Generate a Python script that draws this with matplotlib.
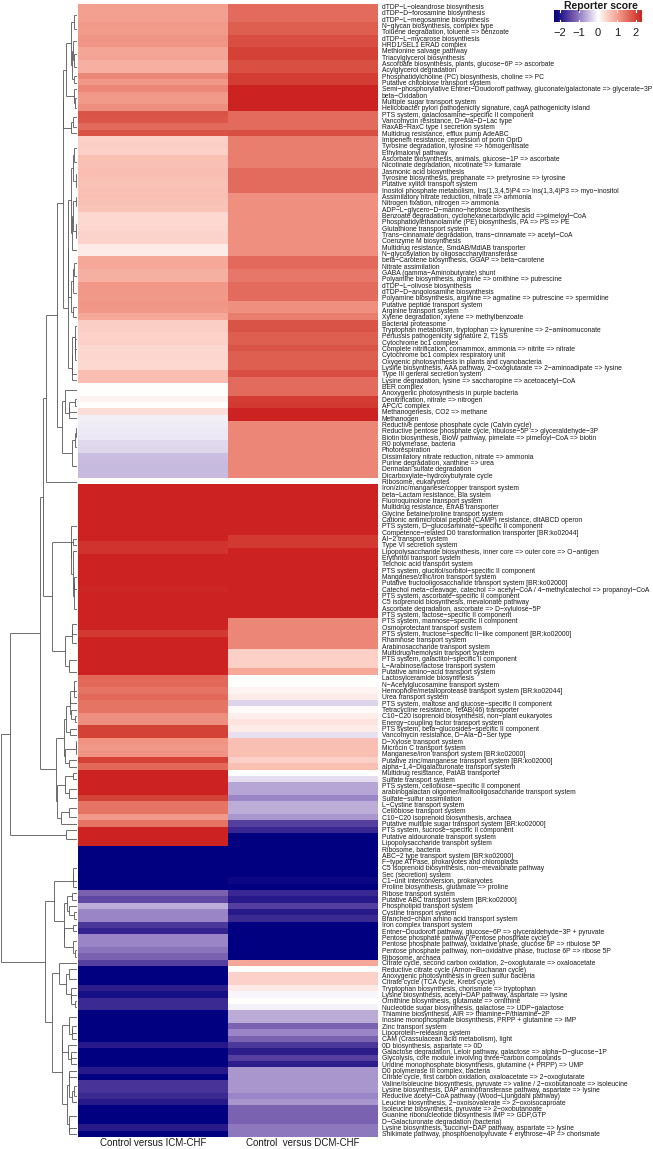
import numpy as np
import matplotlib
matplotlib.use("Agg")
import matplotlib.pyplot as plt
from matplotlib.colors import LinearSegmentedColormap

plt.rcParams['font.family'] = ['Liberation Sans', 'DejaVu Sans']

## pathway / module names, top to bottom
pathways = [
    "dTDP−L−oleandrose biosynthesis",
    "dTDP−D−forosamine biosynthesis",
    "dTDP−L−megosamine biosynthesis",
    "N−glycan biosynthesis, complex type",
    "Toluene degradation, toluene => benzoate",
    "dTDP−L−mycarose biosynthesis",
    "HRD1/SEL1 ERAD complex",
    "Methionine salvage pathway",
    "Triacylglycerol biosynthesis",
    "Ascorbate biosynthesis, plants, glucose−6P => ascorbate",
    "Acylglycerol degradation",
    "Phosphatidylcholine (PC) biosynthesis, choline => PC",
    "Putative chitobiose transport system",
    "Semi−phosphorylative Entner−Doudoroff pathway, gluconate/galactonate => glycerate−3P",
    "beta−Oxidation",
    "Multiple sugar transport system",
    "Helicobacter pylori pathogenicity signature, cagA pathogenicity island",
    "PTS system, galactosamine−specific II component",
    "Vancomycin resistance, D−Ala−D−Lac type",
    "RaxAB−RaxC type I secretion system",
    "Multidrug resistance, efflux pump AdeABC",
    "Imipenem resistance, repression of porin OprD",
    "Tyrosine degradation, tyrosine => homogentisate",
    "Ethylmalonyl pathway",
    "Ascorbate biosynthesis, animals, glucose−1P => ascorbate",
    "Nicotinate degradation, nicotinate => fumarate",
    "Jasmonic acid biosynthesis",
    "Tyrosine biosynthesis, prephanate => pretyrosine => tyrosine",
    "Putative xylitol transport system",
    "Inositol phosphate metabolism, Ins(1,3,4,5)P4 => Ins(1,3,4)P3 => myo−inositol",
    "Assimilatory nitrate reduction, nitrate => ammonia",
    "Nitrogen fixation, nitrogen => ammonia",
    "ADP−L−glycero−D−manno−heptose biosynthesis",
    "Benzoate degradation, cyclohexanecarboxylic acid =>pimeloyl−CoA",
    "Phosphatidylethanolamine (PE) biosynthesis, PA => PS => PE",
    "Glutathione transport system",
    "Trans−cinnamate degradation, trans−cinnamate => acetyl−CoA",
    "Coenzyme M biosynthesis",
    "Multidrug resistance, SmdAB/MdlAB transporter",
    "N−glycosylation by oligosaccharyltransferase",
    "beta−Carotene biosynthesis, GGAP => beta−carotene",
    "Nitrate assimilation",
    "GABA (gamma−Aminobutyrate) shunt",
    "Polyamine biosynthesis, arginine => ornithine => putrescine",
    "dTDP−L−olivose biosynthesis",
    "dTDP−D−angolosamine biosynthesis",
    "Polyamine biosynthesis, arginine => agmatine => putrescine => spermidine",
    "Putative peptide transport system",
    "Arginine transport system",
    "Xylene degradation, xylene => methylbenzoate",
    "Bacterial proteasome",
    "Tryptophan metabolism, tryptophan => kynurenine => 2−aminomuconate",
    "Pertussis pathogenicity signature 2, T1SS",
    "Cytochrome bc1 complex",
    "Complete nitrification, comammox, ammonia => nitrite => nitrate",
    "Cytochrome bc1 complex respiratory unit",
    "Oxygenic photosynthesis in plants and cyanobacteria",
    "Lysine biosynthesis, AAA pathway, 2−oxoglutarate => 2−aminoadipate => lysine",
    "Type III general secretion system",
    "Lysine degradation, lysine => saccharopine => acetoacetyl−CoA",
    "BER complex",
    "Anoxygenic photosynthesis in purple bacteria",
    "Denitrification, nitrate => nitrogen",
    "APC/C complex",
    "Methanogenesis, CO2 => methane",
    "Methanogen",
    "Reductive pentose phosphate cycle (Calvin cycle)",
    "Reductive pentose phosphate cycle, ribulose−5P => glyceraldehyde−3P",
    "Biotin biosynthesis, BioW pathway, pimelate => pimeloyl−CoA => biotin",
    "R0 polymerase, bacteria",
    "Photorespiration",
    "Dissimilatory nitrate reduction, nitrate => ammonia",
    "Purine degradation, xanthine => urea",
    "Dermatan sulfate degradation",
    "Dicarboxylate−hydroxybutyrate cycle",
    "Ribosome, eukaryotes",
    "Iron/zinc/manganese/copper transport system",
    "beta−Lactam resistance, Bla system",
    "Fluoroquinolone transport system",
    "Multidrug resistance, EfrAB transporter",
    "Glycine betaine/proline transport system",
    "Cationic antimicrobial peptide (CAMP) resistance, dltABCD operon",
    "PTS system, D−glucosaminate−specific II component",
    "Competence−related D0 transformation transporter [BR:ko02044]",
    "AI−2 transport system",
    "Type VI secretion system",
    "Lipopolysaccharide biosynthesis, inner core => outer core => O−antigen",
    "Erythritol transport system",
    "Teichoic acid transport system",
    "PTS system, glucitol/sorbitol−specific II component",
    "Manganese/zinc/iron transport system",
    "Putative fructooligosaccharide transport system [BR:ko02000]",
    "Catechol meta−cleavage, catechol => acetyl−CoA / 4−methylcatechol => propanoyl−CoA",
    "PTS system, ascorbate−specific II component",
    "C5 isoprenoid biosynthesis, mevalonate pathway",
    "Ascorbate degradation, ascorbate => D−xylulose−5P",
    "PTS system, lactose−specific II component",
    "PTS system, mannose−specific II component",
    "Osmoprotectant transport system",
    "PTS system, fructose−specific II−like component [BR:ko02000]",
    "Rhamnose transport system",
    "Arabinosaccharide transport system",
    "Multidrug/hemolysin transport system",
    "PTS system, galactitol−specific II component",
    "L−Arabinose/lactose transport system",
    "Putative amino−acid transport system",
    "Lactosylceramide biosynthesis",
    "N−Acetylglucosamine transport system",
    "Hemophore/metalloprotease transport system [BR:ko02044]",
    "Urea transport system",
    "PTS system, maltose and glucose−specific II component",
    "Tetracycline resistance, TetAB(46) transporter",
    "C10−C20 isoprenoid biosynthesis, non−plant eukaryotes",
    "Energy−coupling factor transport system",
    "PTS system, beta−glucosides−specific II component",
    "Vancomycin resistance, D−Ala−D−Ser type",
    "D−Xylose transport system",
    "Microcin C transport system",
    "Manganese/iron transport system [BR:ko02000]",
    "Putative zinc/manganese transport system [BR:ko02000]",
    "alpha−1,4−Digalacturonate transport system",
    "Multidrug resistance, PatAB transporter",
    "Sulfate transport system",
    "PTS system, cellobiose−specific II component",
    "arabinogalactan oligomer/maltooligosaccharide transport system",
    "Sulfate−sulfur assimilation",
    "L−Cystine transport system",
    "Cellobiose transport system",
    "C10−C20 isoprenoid biosynthesis, archaea",
    "Putative multiple sugar transport system [BR:ko02000]",
    "PTS system, sucrose−specific II component",
    "Putative aldouronate transport system",
    "Lipopolysaccharide transport system",
    "Ribosome, bacteria",
    "ABC−2 type transport system [BR:ko02000]",
    "F−type ATPase, prokaryotes and chloroplasts",
    "C5 isoprenoid biosynthesis, non−mevalonate pathway",
    "Sec (secretion) system",
    "C1−unit interconversion, prokaryotes",
    "Proline biosynthesis, glutamate => proline",
    "Ribose transport system",
    "Putative ABC transport system [BR:ko02000]",
    "Phospholipid transport system",
    "Cystine transport system",
    "Branched−chain amino acid transport system",
    "Iron complex transport system",
    "Entner−Doudoroff pathway, glucose−6P => glyceraldehyde−3P + pyruvate",
    "Pentose phosphate pathway (Pentose phosphate cycle)",
    "Pentose phosphate pathway, oxidative phase, glucose 6P => ribulose 5P",
    "Pentose phosphate pathway, non−oxidative phase, fructose 6P => ribose 5P",
    "Ribosome, archaea",
    "Citrate cycle, second carbon oxidation, 2−oxoglutarate => oxaloacetate",
    "Reductive citrate cycle (Arnon−Buchanan cycle)",
    "Anoxygenic photosynthesis in green sulfur bacteria",
    "Citrate cycle (TCA cycle, Krebs cycle)",
    "Tryptophan biosynthesis, chorismate => tryptophan",
    "Lysine biosynthesis, acetyl−DAP pathway, aspartate => lysine",
    "Ornithine biosynthesis, glutamate => ornithine",
    "Nucleotide sugar biosynthesis, galactose => UDP−galactose",
    "Thiamine biosynthesis, AIR => thiamine−P/thiamine−2P",
    "Inosine monophosphate biosynthesis, PRPP + glutamine => IMP",
    "Zinc transport system",
    "Lipoprotein−releasing system",
    "CAM (Crassulacean acid metabolism), light",
    "0D biosynthesis, aspartate => 0D",
    "Galactose degradation, Leloir pathway, galactose => alpha−D−glucose−1P",
    "Glycolysis, core module involving three−carbon compounds",
    "Uridine monophosphate biosynthesis, glutamine (+ PRPP) => UMP",
    "D0 polymerase III complex, bacteria",
    "Citrate cycle, first carbon oxidation, oxaloacetate => 2−oxoglutarate",
    "Valine/isoleucine biosynthesis, pyruvate => valine / 2−oxobutanoate => isoleucine",
    "Lysine biosynthesis, DAP aminotransferase pathway, aspartate => lysine",
    "Reductive acetyl−CoA pathway (Wood−Ljungdahl pathway)",
    "Leucine biosynthesis, 2−oxoisovalerate => 2−oxoisocaproate",
    "Isoleucine biosynthesis, pyruvate => 2−oxobutanoate",
    "Guanine ribonucleotide biosynthesis IMP => GDP,GTP",
    "D−Galacturonate degradation (bacteria)",
    "Lysine biosynthesis, succinyl−DAP pathway, aspartate => lysine",
    "Shikimate pathway, phosphoenolpyruvate + erythrose−4P => chorismate",
]

comparisons = ["Control versus ICM-CHF", "Control  versus DCM-CHF"]

## reporter scores, Control vs ICM-CHF
icm = [
    1.02, 1.00, 1.02, 1.08, 1.06, 1.13, 1.12, 0.95, 0.97, 0.84,
    0.86, 1.27, 1.10, 1.27, 1.10, 1.08, 1.20, 1.82, 1.80, 1.58,
    1.82, 0.50, 0.52, 0.50, 0.68, 0.66, 0.70, 0.68, 0.64, 0.66,
    0.68, 0.64, 0.62, 0.40, 0.40, 0.42, 0.47, 0.47, 0.22, 0.20,
    0.93, 0.93, 0.85, 0.85, 1.10, 1.10, 1.08, 1.12, 1.10, 0.93,
    0.51, 0.51, 0.48, 0.50, 0.40, 0.42, 0.40, 0.40, 0.70, 0.70,
    0.00, 0.00, 0.12, 0.00, 0.35, -0.12, -0.14, -0.16, -0.18, -0.28,
    -0.30, -0.48, -0.50, -0.52, -0.50, 0.00, 2.40, 2.40, 2.40, 2.40,
    2.40, 2.40, 2.40, 2.40, 2.40, 2.15, 2.15, 2.40, 2.40, 2.40,
    2.40, 2.40, 2.25, 2.40, 2.40, 2.40, 2.40, 2.40, 2.40, 2.10,
    2.40, 2.40, 2.40, 2.40, 2.40, 2.40, 1.60, 1.60, 1.47, 1.60,
    1.47, 1.47, 1.20, 1.20, 2.00, 2.00, 1.15, 1.10, 1.15, 2.00,
    1.60, 2.40, 2.40, 2.40, 2.40, 2.00, 1.47, 1.47, 1.08, 1.47,
    2.40, 2.40, 2.40, -2.40, -2.40, -2.40, -2.40, -2.40, -2.40, -2.40,
    -1.20, -1.46, -0.61, -0.91, -0.91, -1.63, -1.84, -0.92, -0.92, -1.06,
    -1.18, -1.55, -2.40, -2.40, -2.40, -1.90, -2.10, -1.77, -1.77, -2.40,
    -2.40, -2.40, -2.40, -2.40, -1.94, -2.40, -2.40, -2.40, -1.94, -2.40,
    -1.65, -1.65, -1.77, -1.94, -2.40, -2.40, -2.40, -1.94, -2.40,
]

## reporter scores, Control vs DCM-CHF
dcm = [
    1.57, 1.57, 1.57, 1.71, 1.71, 1.88, 1.88, 2.00, 2.00, 1.85,
    1.85, 2.05, 2.05, 2.40, 2.40, 2.40, 2.40, 1.57, 1.57, 1.57,
    1.88, 1.36, 1.36, 1.36, 1.36, 1.36, 1.56, 1.56, 1.56, 1.56,
    1.19, 1.19, 1.19, 1.19, 1.19, 1.19, 1.19, 1.19, 1.19, 1.19,
    1.58, 1.58, 1.44, 1.44, 1.56, 1.56, 1.56, 1.19, 1.19, 1.36,
    1.82, 1.82, 1.71, 1.71, 1.82, 1.71, 1.71, 1.71, 1.88, 1.57,
    1.57, 1.57, 2.05, 2.10, 2.40, 2.40, 1.27, 1.27, 1.27, 1.27,
    1.27, 1.27, 1.27, 1.27, 1.27, 0.00, 2.40, 2.40, 2.40, 2.40,
    2.40, 2.40, 2.40, 2.40, 2.10, 2.10, 2.40, 2.40, 2.40, 2.40,
    2.40, 2.40, 2.40, 2.40, 2.40, 2.40, 2.40, 1.27, 1.27, 1.27,
    1.27, 1.27, 0.50, 0.50, 0.50, 0.93, 0.00, 0.00, 0.10, 0.20,
    -0.32, 0.05, 0.18, 0.28, 0.20, -0.22, 0.68, 0.68, 0.68, 0.50,
    0.68, 0.00, -0.25, -0.67, -0.67, -0.91, -0.60, -0.60, -0.79, -1.55,
    -1.78, -2.40, -2.40, -2.40, -2.40, -2.40, -2.40, -2.40, -2.20, -2.40,
    -1.79, -1.94, -1.55, -1.94, -1.77, -2.40, -2.40, -2.40, -2.40, -2.40,
    -2.40, 0.93, 0.00, 0.48, 0.48, 0.22, -0.06, 0.00, -0.10, -0.62,
    -0.62, -1.18, -0.91, -1.18, -1.63, -1.90, -1.55, -1.90, -0.79, -0.79,
    -0.79, -0.79, -0.91, -0.79, -1.18, -1.18, -1.18, -1.03, -1.03,
]

W, H = 653, 1149
fig = plt.figure(figsize=(W / 100, H / 100), dpi=100)

lim = 2.32
## navy -> white -> red, with the purple / salmon tints of the original palette
stops = [(-2.32, "#000080"), (-1.9, "#2E1E8C"), (-1.55, "#5540A0"), (-1.18, "#7D64B2"),
         (-0.91, "#9B88C7"), (-0.52, "#C6B9DE"), (0.0, "#FFFFFF"), (0.51, "#FCCFC6"),
         (1.02, "#F4A090"), (1.57, "#E46C5E"), (2.0, "#D54438"), (2.32, "#CC2222")]
cmap = LinearSegmentedColormap.from_list(
    "rs", [((v + lim) / (2 * lim), c) for v, c in stops])

mat = np.column_stack([icm, dcm])
n = len(pathways)

top_px, bot_px = 3.5, 1137
hm_left, hm_right = 78, 378
ax_hm = fig.add_axes([hm_left / W, 1 - bot_px / H, (hm_right - hm_left) / W, (bot_px - top_px) / H])
ax_hm.imshow(mat, cmap=cmap, vmin=-lim, vmax=lim, aspect="auto",
             interpolation="nearest", extent=[0, 2, n, 0])
ax_hm.set_xlim(0, 2)
ax_hm.set_ylim(n, 0)
ax_hm.yaxis.tick_right()
ax_hm.set_yticks(np.arange(n) + 0.5)
ax_hm.set_yticklabels(pathways, fontsize=4.9, color="#1a1a1a")
ax_hm.tick_params(axis="y", length=0, pad=2.8)
ax_hm.set_xticks([])
for s in ax_hm.spines.values():
    s.set_visible(False)

for i, lab in enumerate(comparisons):
    fig.text((hm_left + 75 + 150 * i) / W, 1 - 1143 / H, lab, ha="center", va="center",
             fontsize=7, color="#1a1a1a")

## row dendrogram: average linkage between neighbouring clusters (keeps row order)
dist = np.sqrt(((mat[:, None, :] - mat[None, :, :]) ** 2).sum(-1))
groups = [[i] for i in range(n)]
ypos = [i + 0.5 for i in range(n)]
hts = [0.0] * n
segs = []
while len(groups) > 1:
    sc = [dist[np.ix_(groups[k], groups[k + 1])].mean() for k in range(len(groups) - 1)]
    k = int(np.argmin(sc))
    h = max(sc[k], hts[k], hts[k + 1])
    segs.append(([hts[k], h], [ypos[k], ypos[k]]))
    segs.append(([hts[k + 1], h], [ypos[k + 1], ypos[k + 1]]))
    segs.append(([h, h], [ypos[k], ypos[k + 1]]))
    groups[k:k + 2] = [groups[k] + groups[k + 1]]
    ypos[k:k + 2] = [(ypos[k] + ypos[k + 1]) / 2]
    hts[k:k + 2] = [h]

ax_dn = fig.add_axes([1 / W, 1 - bot_px / H, 76 / W, (bot_px - top_px) / H])
for xs, ys in segs:
    ax_dn.plot(xs, ys, color="#555555", lw=0.6, solid_capstyle="butt")
ax_dn.set_xlim(hts[0], 0)
ax_dn.set_ylim(n, 0)
ax_dn.axis("off")

## legend
ax_cb = fig.add_axes([554 / W, 1 - 22 / H, 88 / W, 12 / H])
grad = np.linspace(-lim, lim, 256)[None, :]
ax_cb.imshow(grad, cmap=cmap, vmin=-lim, vmax=lim, aspect="auto", extent=[-lim, lim, 0, 1])
for t in [-2, -1, 0, 1, 2]:
    ax_cb.plot([t, t], [0, 0.2], color="white", lw=0.8)
    ax_cb.plot([t, t], [0.8, 1], color="white", lw=0.8)
    ax_cb.text(t, -0.95, str(t).replace("-", "−"), ha="center", va="center", fontsize=8,
               color="#1a1a1a")
ax_cb.set_xlim(-lim, lim)
ax_cb.set_ylim(0, 1)
ax_cb.axis("off")
fig.text(601 / W, 1 - 6 / H, "Reporter score", ha="center", va="center", fontsize=7.5,
         fontweight="bold", color="#1a1a1a")

fig.savefig("out.png", dpi=100)
